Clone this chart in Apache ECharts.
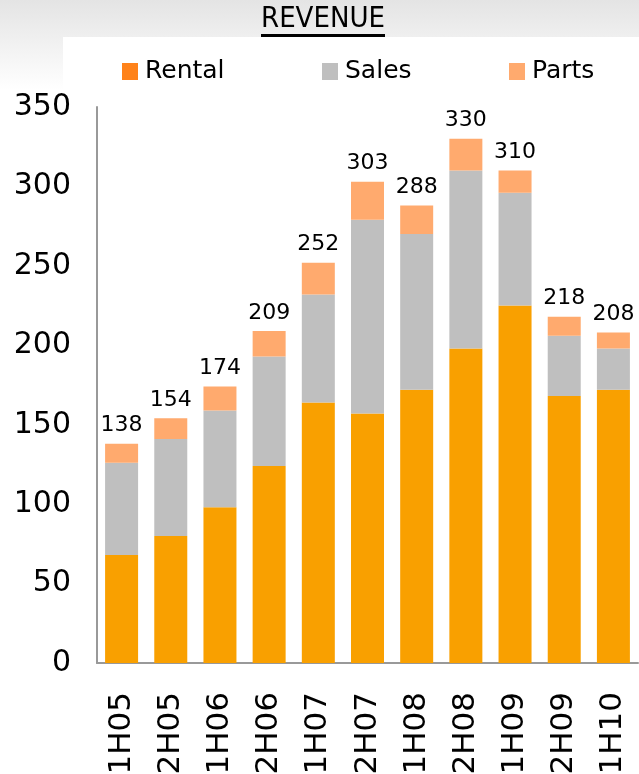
<!DOCTYPE html>
<html>
<head>
<meta charset="utf-8">
<script src="https://cdn.jsdelivr.net/npm/echarts@6/dist/echarts.min.js"></script>
<style>
html, body { margin: 0; padding: 0; background: #fff; }
#Revenue { width: 639px; height: 774px; }
</style>
</head>
<body>
<div id="Revenue"></div>
<script>
var periods = ["1H05", "2H05", "1H06", "2H06", "1H07", "2H07", "1H08", "2H08", "1H09", "2H09", "1H10"];
var rental = [68, 80, 98, 124, 164, 157, 172, 198, 225, 168, 172];
var sales = [58, 61, 61, 69, 68, 122, 98, 112, 71, 38, 26];
var parts = [12, 13, 15, 16, 20, 24, 18, 20, 14, 12, 10];
var totals = [138, 154, 174, 209, 252, 303, 288, 330, 310, 218, 208];
var yTicks = [0, 50, 100, 150, 200, 250, 300, 350];

var Revenue = echarts.init(document.getElementById("Revenue"));

var font = "DejaVu Sans";

function legendAt(name, color, left){
    return {
        data: [{ name: name, icon: "rect", itemStyle: { color: color } }],
        left: left,
        top: 54,
        itemWidth: 16,
        itemHeight: 17,
        itemGap: 0,
        selectedMode: false,
        textStyle: { fontFamily: font, fontSize: 25, color: "#000", padding: [0, 0, 0, 2] }
    };
}

var RevenueOption = {
    animation: false,
    backgroundColor: "#fff",
    graphic: [
        {
            type: "rect", z: -10, silent: true,
            shape: { x: 0, y: 0, width: 639, height: 90 },
            style: {
                fill: new echarts.graphic.LinearGradient(0, 0, 0, 1, [
                    { offset: 0, color: "#e4e4e4" },
                    { offset: 1, color: "#ffffff" }
                ])
            }
        },
        {
            type: "rect", z: -9, silent: true,
            shape: { x: 63, y: 37, width: 576, height: 60 },
            style: { fill: "#fff" }
        },
        {
            type: "text", left: 261, top: 5,
            style: { text: "REVENUE", fontFamily: "DejaVu Sans Condensed, Liberation Sans Narrow, sans-serif", fontSize: 29, fill: "#000" }
        },
        {
            type: "rect", silent: true,
            shape: { x: 261, y: 34, width: 124, height: 3 },
            style: { fill: "#000" }
        }
    ],
    legend: [
        legendAt("Rental", "#FF8219", 117),
        legendAt("Sales", "#BFBFBF", 317),
        legendAt("Parts", "#FFAA6E", 504)
    ],
    grid: { left: 97, right: 1, top: 107, bottom: 111, outerBoundsMode: "none", containLabel: false },
    xAxis: {
        type: "category",
        data: periods,
        axisLine: { lineStyle: { color: "#999", width: 2 } },
        axisTick: { show: false },
        axisLabel: { rotate: 90, margin: 29, fontFamily: font, fontSize: 31, color: "#000" }
    },
    yAxis: {
        type: "value",
        min: yTicks[0],
        max: yTicks[yTicks.length - 1],
        interval: 50,
        axisLine: { show: true, lineStyle: { color: "#999", width: 2 } },
        axisTick: { show: false },
        splitLine: { show: false },
        axisLabel: { margin: 26, fontFamily: font, fontSize: 30, color: "#000" }
    },
    series: [
        { name: "Rental", type: "bar", stack: "rev", barWidth: 33, data: rental, itemStyle: { color: "#F9A000" } },
        { name: "Sales", type: "bar", stack: "rev", barWidth: 33, data: sales, itemStyle: { color: "#BFBFBF" } },
        {
            name: "Parts", type: "bar", stack: "rev", barWidth: 33, data: parts,
            itemStyle: { color: "#FFAA6E" },
            label: {
                show: true, position: "top", distance: 7,
                fontFamily: font, fontSize: 22, color: "#000",
                formatter: function(p){ return totals[p.dataIndex]; }
            }
        }
    ]
};
Revenue.setOption(RevenueOption);
</script>
</body>
</html>
